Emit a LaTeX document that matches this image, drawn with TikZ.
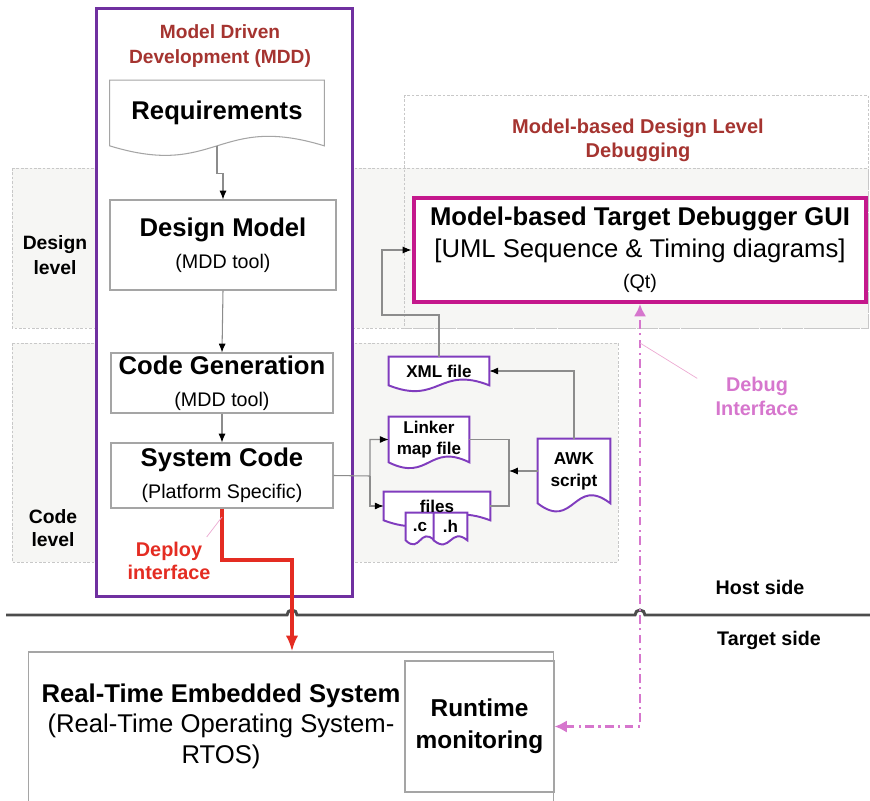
\documentclass[tikz,border=0pt]{standalone}
\usepackage{fontspec}
\setmainfont{Liberation Sans}
\usetikzlibrary{arrows.meta,calc}

\definecolor{mddpurple}{RGB}{112,48,160}
\definecolor{docpurple}{RGB}{128,60,190}
\definecolor{titlered}{RGB}{165,52,48}
\definecolor{guimagenta}{RGB}{196,24,140}
\definecolor{debugpink}{RGB}{214,118,205}
\definecolor{pinpink}{RGB}{236,170,210}
\definecolor{deployred}{RGB}{228,44,34}
\definecolor{boxgray}{RGB}{165,165,165}
\definecolor{bandfill}{RGB}{246,246,244}
\definecolor{bandline}{RGB}{200,200,200}

\pgfdeclarelayer{back}
\pgfdeclarelayer{docs}
\pgfsetlayers{back,docs,main}

\newcommand\bigbf{\fontsize{14.6}{18}\selectfont\bfseries}
\newcommand\subtxt{\fontsize{11.2}{13}\selectfont}
\newcommand\filetxt{\fontsize{9.7}{11.5}\selectfont\bfseries}

% document outline with a wavy bottom edge
\newcommand\docoutline[3][docline]{%
  \draw[#1] (#2.south west) -- (#2.north west) -- (#2.north east) -- (#2.south east)
    .. controls ($(#2.south)+(0,-#3)$) and ($(#2.south)+(0,#3)$) .. (#2.south west) -- cycle;}

\begin{document}
\begin{tikzpicture}[
    x=0.02cm, y=-0.02cm,
    band/.style={draw=bandline, line width=0.4pt, dash pattern=on 1.5pt off 1pt},
    mddframe/.style={draw=mddpurple, line width=1.7pt, fill=white, minimum width=5.14cm, minimum height=11.78cm},
    stepbox/.style={draw=boxgray, fill=white, line width=0.6pt, align=center, inner sep=0pt, font=\fontsize{14.6}{18}\selectfont},
    docbox/.style={align=center, inner sep=0pt, font=\filetxt},
    docline/.style={draw=docpurple, fill=white, line width=1.1pt},
    graydoc/.style={draw=boxgray, fill=white, line width=0.6pt},
    sidelbl/.style={align=center, inner sep=0pt, font=\fontsize{11.2}{13.6}\selectfont\bfseries},
    flow/.style={draw=black!45, line width=0.6pt, -{Latex[length=5pt,width=4pt,color=black]}},
    link/.style={draw=black!45, line width=0.6pt},
    deploy/.style={draw=deployred, line width=2.3pt, -{Latex[length=9pt,width=7pt]}},
    debug/.style={draw=debugpink, line width=1.4pt, dash pattern=on 5pt off 2.5pt on 1.2pt off 2.5pt,
        {Latex[length=7pt,width=7pt]}-{Latex[length=7pt,width=7pt]}},
    pinline/.style={line width=0.4pt},
    hostline/.style={draw=black!70, line width=1.7pt}
]
    \useasboundingbox (0,0) rectangle (870,801);
    \clip (0,0) rectangle (870,801);

    % Level bands and MDD frame
    \begin{pgfonlayer}{back}
        \draw[band, fill=bandfill] (12,168) rectangle (868,328);
        \draw[band, fill=bandfill] (12,343) rectangle (618,562);
        \draw[band] (404,95) rectangle (868,328);
        \node[mddframe] (mdd) at (224.5,302.5) {};
    \end{pgfonlayer}

    % Titles and side labels
    \node[sidelbl, text=titlered, font=\fontsize{10.9}{14.4}\selectfont\bfseries] (mddtitle) at (220,46) {Model Driven\\Development (MDD)};
    \node[sidelbl, text=titlered, font=\fontsize{11.4}{13.6}\selectfont\bfseries] (modeltitle) at (638,140) {Model-based Design Level\\Debugging};
    \node[sidelbl, font=\fontsize{11}{14.2}\selectfont\bfseries] (designlbl) at (55,255) {Design\\level};
    \node[sidelbl, font=\fontsize{11}{13}\selectfont\bfseries] (codelbl) at (53,528) {Code\\level};

    % MDD steps
    \node[docbox, font=\bigbf, minimum width=4.28cm, minimum height=1.3cm] (req) at (217,113) {Requirements};
    \node[stepbox, minimum width=4.52cm, minimum height=1.8cm] (dm) at (223,245) {{\bfseries Design Model}\\{\subtxt (MDD tool)}};
    \node[stepbox, minimum width=4.44cm, minimum height=1.2cm] (cg) at (222,383) {{\bfseries Code Generation}\\{\subtxt (MDD tool)}};
    \node[stepbox, minimum width=4.44cm, minimum height=1.3cm] (sc) at (222,475.5) {{\bfseries System Code}\\{\subtxt (Platform Specific)}};

    % Debugger GUI
    \node[stepbox, draw=guimagenta, line width=2.3pt, minimum width=9.06cm, minimum height=2.08cm] (gui) at (640,250)
        {{\bfseries Model-based Target Debugger GUI}\\{[UML Sequence \& Timing diagrams]}\\{\subtxt (Qt)}};

    % Files
    \node[docbox, minimum width=2cm, minimum height=0.56cm] (xml) at (439,371) {XML file};
    \node[docbox, minimum width=1.6cm, minimum height=0.9cm] (linker) at (429,439.5) {Linker\\map file};
    \node[docbox, minimum width=2.12cm, minimum height=0.56cm] (files) at (437,506) {files};
    \node[docbox, minimum width=0.56cm, minimum height=0.54cm] (cfile) at (420,526.5) {.c};
    \node[docbox, minimum width=0.66cm, minimum height=0.54cm] (hfile) at (450.5,526.5) {.h};
    \node[docbox, font=\fontsize{9.8}{12.5}\selectfont\bfseries, minimum width=1.44cm, minimum height=1.28cm] (awk) at (574,471) {AWK\\script};

    \begin{pgfonlayer}{docs}
        \docoutline[graydoc]{req}{33}
        \docoutline{xml}{20}
        \docoutline{linker}{20}
        \docoutline{files}{20}
        \docoutline{cfile}{14}
        \docoutline{hfile}{14}
        \docoutline{awk}{28}
    \end{pgfonlayer}

    % Target side
    \node[stepbox, minimum width=10.52cm, minimum height=3.2cm] (rtes) at (291,732) {};
    \node[stepbox, minimum width=2.98cm, minimum height=2.62cm, font=\fontsize{13.9}{18}\selectfont\bfseries] (rtm) at (479.5,726.5) {Runtime\\monitoring};
    \node[sidelbl, font=\fontsize{14.6}{17.3}\selectfont] (rteslbl) at (221,726)
        {{\bfseries Real-Time Embedded System}\\(Real-Time Operating System-\\RTOS)};

    % Host / target separation
    \draw[hostline] (6,615) -- (287,615) arc[start angle=180, end angle=360, radius=5]
        -- (635,615) arc[start angle=180, end angle=360, radius=5] -- (870,615);
    \node[sidelbl] (hostlbl) at (760,587) {Host side};
    \node[sidelbl] (targetlbl) at (769,640) {Target side};

    % Tool chain connections
    \coordinate (fork) at (370,476);
    \coordinate (merge) at (509,471);
    \coordinate (bend) at (382,315);
    \draw[flow] (req.south) -- ++(0,28) -| (dm.north);
    \draw[flow] (dm.south) -- (cg.north);
    \draw[flow] (cg.south) -- (sc.north);
    \draw[flow] (sc.east) -- (fork) |- (linker.west);
    \draw[flow] (fork) |- (files.west);
    \draw[link] (linker.east) -| (merge) |- (files.east);
    \draw[flow] (awk.west) -- (merge);
    \draw[flow] (awk.north) |- (xml.east);
    \draw[flow] (xml.north) |- (bend) |- (gui.west);

    % Deploy and debug interfaces
    \coordinate (dstep) at (292,560);
    \coordinate (deploytap) at (222,517);
    \coordinate (debugtap) at (640,343);
    \draw[deploy] (sc.south) |- (dstep) -- (dstep |- rtes.north);
    \draw[debug] (rtm.east) -| (gui.south);
    \node[sidelbl, text=deployred, font=\fontsize{11.3}{13}\selectfont\bfseries] (deploylbl) at (169,561) {Deploy\\interface};
    \node[sidelbl, text=debugpink, font=\fontsize{11.3}{13.6}\selectfont\bfseries] (debuglbl) at (757,396) {Debug\\Interface};
    \draw[pinline, draw=pinpink] (deploytap) -- ($(deploylbl.north east)+(-4,-5)$);
    \draw[pinline, draw=pinpink] (debugtap) -- ($(debuglbl.north west)+(-18,2)$);
\end{tikzpicture}
\end{document}
